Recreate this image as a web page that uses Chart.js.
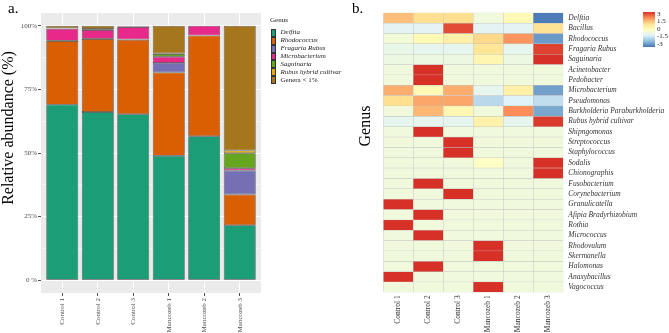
<!DOCTYPE html>
<html><head><meta charset="utf-8">
<script src="https://cdn.jsdelivr.net/npm/chart.js@4/dist/chart.umd.min.js"></script>
<style>
body{margin:0;background:#fff;width:669px;height:333px;overflow:hidden;position:relative;font-family:"Liberation Serif","DejaVu Serif",serif;}
canvas{position:absolute;top:0;}
#c1{left:0;}
#c2{left:330px;}
.t{position:absolute;white-space:nowrap;color:#000;line-height:1;}
.rot{transform:rotate(-90deg);transform-origin:50% 50%;text-align:center;}
.lg{position:absolute;font-size:7px;font-style:italic;color:#222;line-height:1;white-space:nowrap;}
.box{position:absolute;box-sizing:border-box;border:0.6px solid #333;}
</style></head><body>
<canvas id="c1" width="265" height="333"></canvas>
<canvas id="c2" width="339" height="333"></canvas>
<div id="overlay"></div>
<script>
// ---- data: panel a (relative abundance, %) ----
const samples = ['Control 1','Control 2','Control 3','Mancozeb 1','Mancozeb 2','Mancozeb 3'];
const delftia        = [69.0, 66.1, 65.2, 48.9, 56.6, 21.6];
const rhodococcus    = [25.0, 28.7, 29.3, 32.7, 39.5, 12.1];
const fragariaRubus  = [0.1, 0.1, 0.1, 3.8, 0.1, 9.4];
const microbacterium = [4.7, 3.4, 4.9, 2.4, 3.8, 0.9];
const saguinaria     = [0.1, 0.1, 0.1, 1.1, 0.0, 5.9];
const rubusHybrid    = [0.1, 0.3, 0.1, 0.2, 0.0, 1.1];
const generaLt1      = [1.0, 1.3, 0.3, 10.9, 0.0, 49.0];
const stackLabels = ['Delftia','Rhodococcus','Fragaria Rubus','Microbacterium','Saguinaria','Rubus hybrid cultivar','Genera < 1%'];
const stackColors = ['#1B9E77','#D95F02','#7570B3','#E7298A','#66A61E','#E6AB02','#A6761D'];
const yTickLabels = {0:'0 %',25:'25%',50:'50%',75:'75%',100:'100%'};

// ---- data: panel b (row-scaled abundance, heatmap) ----
const genusNames = ['Delftia','Bacillus','Rhodococcus','Fragaria Rubus','Saguinaria','Acinetobacter','Pedobacter',
 'Microbacterium','Pseudomonas','Burkholderia Paraburkholderia','Rubus hybrid cultivar','Shipngomonas','Streptococcus',
 'Staphylococcus','Sodalis','Chionographis','Fusobacterium','Corynebacterium','Granulicatella','Afipia Bradyrhizobium',
 'Rothia','Micrococcus','Rhodovulum','Skermanella','Halomonas','Anaxybacillus','Vagococcus'];
const zScores = [
 [ 1.4, 1.0, 1.0,-0.5, 0.2,-2.9],
 [-0.9,-0.9, 2.7,-0.9,-0.9, 0.9],
 [-0.4, 0.2, 0.5, 1.1, 1.9,-2.5],
 [-0.7,-0.8,-0.8, 0.8,-0.8, 2.8],
 [-0.6,-0.6,-0.6, 0.3,-0.6, 3.0],
 [-0.5, 3.0,-0.5,-0.5,-0.5,-0.5],
 [-0.5, 3.0,-0.5,-0.5,-0.5,-0.5],
 [ 1.6, 0.2, 1.6,-0.8, 0.5,-2.4],
 [ 1.0, 1.7, 1.7,-1.5,-1.0,-1.4],
 [-0.5, 1.5, 0.3,-0.5, 2.0,-2.3],
 [-0.8,-0.8,-0.8, 0.4,-0.8, 2.9],
 [-0.5, 3.0,-0.5,-0.5,-0.5,-0.5],
 [-0.5,-0.5, 3.0,-0.5,-0.5,-0.5],
 [-0.5,-0.5, 3.0,-0.5,-0.5,-0.5],
 [-0.5,-0.5,-0.5,-0.1,-0.5, 3.0],
 [-0.5,-0.5,-0.5,-0.5,-0.5, 3.0],
 [-0.5, 3.0,-0.5,-0.5,-0.5,-0.5],
 [-0.5,-0.5, 3.0,-0.5,-0.5,-0.5],
 [ 3.0,-0.5,-0.5,-0.5,-0.5,-0.5],
 [-0.5, 3.0,-0.5,-0.5,-0.5,-0.5],
 [ 3.0,-0.5,-0.5,-0.5,-0.5,-0.5],
 [-0.5, 3.0,-0.5,-0.5,-0.5,-0.5],
 [-0.5,-0.5,-0.5, 3.0,-0.5,-0.5],
 [-0.5,-0.5,-0.5, 3.0,-0.5,-0.5],
 [-0.5, 3.0,-0.5,-0.5,-0.5,-0.5],
 [ 3.0,-0.5,-0.5,-0.5,-0.5,-0.5],
 [-0.5,-0.5,-0.5, 3.0,-0.5,-0.5]
];
const scaleTicks = ['3','1.5','0','-1.5','-3'];
const palette = ['#4575B4','#91BFDB','#E0F3F8','#FFFFBF','#FEE090','#FC8D59','#D73027']; // -3 .. 3

function hex2rgb(h){return [1,3,5].map(i=>parseInt(h.substr(i,2),16));}
function heatColor(v){
  let p = (Math.max(-3,Math.min(3,v))+3)/6*(palette.length-1);
  let i = Math.min(Math.floor(p), palette.length-2), t = p-i;
  const a = hex2rgb(palette[i]), b = hex2rgb(palette[i+1]);
  const c = a.map((x,k)=>Math.round(x+(b[k]-x)*t));
  return 'rgb('+c.join(',')+')';
}

const SERIF = '"Liberation Serif","DejaVu Serif",serif';
const bgPlugin = {id:'bg', beforeDraw(ch){const a=ch.chartArea,c=ch.ctx;c.save();c.fillStyle='#EBEBEB';c.fillRect(a.left,a.top,a.right-a.left,a.bottom-a.top);c.restore();}};

const seriesData = [delftia, rhodococcus, fragariaRubus, microbacterium, saguinaria, rubusHybrid, generaLt1];

new Chart(document.getElementById('c1'), {
  type:'bar',
  data:{datasets: seriesData.map((arr,k)=>({
    label: stackLabels[k],
    data: arr.map((v,i)=>({x:i, y:v})),
    backgroundColor: stackColors[k], borderColor:'#3a3a3a', borderWidth:0.7, borderSkipped:false,
    categoryPercentage:0.9, barPercentage:1
  }))},
  options:{
    responsive:false, animation:false, devicePixelRatio:1,
    layout:{padding:{left:0,right:4,top:13,bottom:0}},
    plugins:{legend:{display:false}, tooltip:{enabled:false}},
    scales:{
      x:{type:'linear', min:-0.6, max:5.6, stacked:true, offset:false,
        afterBuildTicks:s=>{s.ticks = samples.map((_,i)=>({value:i}));},
        afterFit:s=>{s.height=40;},
        ticks:{autoSkip:false, minRotation:90, maxRotation:90, padding:2, color:'#4d4d4d',
          font:{family:SERIF, size:7}, callback:v=>samples[v]},
        grid:{offset:false, color:'#ffffff', lineWidth:1, tickColor:'#4d4d4d', tickLength:3},
        border:{display:false}},
      y:{type:'linear', min:-5, max:105, stacked:true,
        afterBuildTicks:s=>{s.ticks=[0,12.5,25,37.5,50,62.5,75,87.5,100].map(v=>({value:v}));},
        afterFit:s=>{s.width=41;},
        ticks:{autoSkip:false, padding:1, color:'#4d4d4d', font:{family:SERIF, size:7},
          callback:v=>(yTickLabels[v]!==undefined?yTickLabels[v]:'')},
        grid:{color:'#ffffff', lineWidth:c=>(c.tick && c.tick.value%25===0?1:0.5),
          tickColor:c=>(c.tick && c.tick.value%25===0?'#4d4d4d':'rgba(0,0,0,0)'), tickLength:3},
        border:{display:false}}
    }
  },
  plugins:[bgPlugin]
});

new Chart(document.getElementById('c2'), {
  type:'bar',
  data:{datasets: genusNames.map((g,r)=>({
    label:g,
    data: samples.map((s,i)=>({x:i, y:[r, r+1]})),
    backgroundColor: zScores[r].map(heatColor),
    borderColor:'#c4c4c4', borderWidth:0.5, borderSkipped:false,
    grouped:false, categoryPercentage:1, barPercentage:1
  }))},
  options:{
    responsive:false, animation:false, devicePixelRatio:1,
    layout:{padding:{left:53.3,right:0,top:12.7,bottom:0}},
    plugins:{legend:{display:false}, tooltip:{enabled:false}},
    scales:{
      x:{type:'linear', min:-0.5, max:5.5, offset:false,
        afterBuildTicks:s=>{s.ticks = samples.map((_,i)=>({value:i}));},
        afterFit:s=>{s.height=40.7;},
        ticks:{autoSkip:false, minRotation:90, maxRotation:90, padding:3, color:'#333',
          font:{family:SERIF, size:7.5}, callback:v=>samples[v]},
        grid:{display:false, drawTicks:false, offset:false}, border:{display:false}},
      y:{type:'linear', position:'right', min:0, max:27, reverse:true,
        afterBuildTicks:s=>{s.ticks = genusNames.map((_,r)=>({value:r+0.5}));},
        afterFit:s=>{s.width=105.7;},
        ticks:{autoSkip:false, padding:5, color:'#333', font:{family:SERIF, size:7.5, style:'italic'},
          callback:v=>genusNames[Math.floor(v)]},
        grid:{display:false, drawTicks:false}, border:{display:false}}
    }
  }
});

// ---- text overlays, legend and colour bar ----
const ov = document.getElementById('overlay');
function addText(txt, css){const d=document.createElement('div');d.className='t';d.textContent=txt;Object.assign(d.style,css);ov.appendChild(d);return d;}
addText('a.',{left:'8px',top:'1px',fontSize:'15px'});
addText('b.',{left:'352px',top:'1px',fontSize:'15px'});
const r1 = addText('Relative abundance (%)',{left:(8-100)+'px',top:(128-8)+'px',width:'200px',fontSize:'16px',height:'16px'}); r1.classList.add('rot');
const r2 = addText('Genus',{left:(365-50)+'px',top:(126-8)+'px',width:'100px',fontSize:'16px',height:'16px'}); r2.classList.add('rot');

addText('Genus',{left:'270px',top:'16.5px',fontSize:'7px',color:'#222'});
const step = 7.86;
stackLabels.forEach((lab,k)=>{
  const b=document.createElement('div');b.className='box';
  Object.assign(b.style,{left:'270.5px',top:(29+k*step)+'px',width:'5.5px',height:step+'px',background:stackColors[k]});
  ov.appendChild(b);
  const t=document.createElement('div');t.className='lg';t.textContent=lab;
  Object.assign(t.style,{left:'280.5px',top:(29+k*step+step/2-3.5)+'px'});
  if(k===stackLabels.length-1) t.style.fontStyle='normal';
  ov.appendChild(t);
});

const cb=document.createElement('div');
Object.assign(cb.style,{position:'absolute',left:'643px',top:'12px',width:'12px',height:'35px',
  background:'linear-gradient(to bottom,'+palette.slice().reverse().join(',')+')'});
ov.appendChild(cb);
scaleTicks.forEach((s,k)=>{addText(s,{left:'657px',top:(14+k*7.6-3.5)+'px',fontSize:'7px',color:'#222'});});
</script>
</body></html>
